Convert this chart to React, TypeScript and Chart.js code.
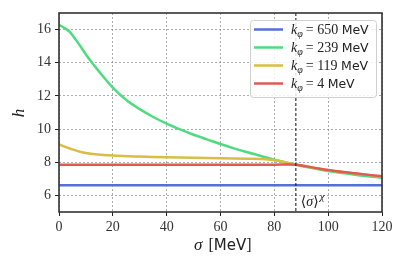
import React, { useEffect, useRef } from "react";
import { Chart, registerables } from "chart.js";

Chart.register(...registerables);

const sigma239 = [0, 2, 4, 7.5, 10, 12.5, 15, 20, 25, 30, 35, 40, 45, 50, 55, 60, 65, 70, 75, 80, 85, 88, 95, 100, 110, 120];
const h239 = [16.28, 16.1, 15.86, 15.1, 14.5, 13.95, 13.45, 12.5, 11.75, 11.2, 10.73, 10.33, 9.98, 9.66, 9.38, 9.1, 8.84, 8.6, 8.38, 8.15, 7.96, 7.85, 7.62, 7.47, 7.25, 7.06];
const sigma119 = [0, 4, 8.5, 13.5, 20, 30, 40, 50, 60, 70, 75, 81, 85, 88, 95, 100, 110, 120];
const h119 = [9.07, 8.83, 8.6, 8.48, 8.4, 8.34, 8.3, 8.27, 8.24, 8.21, 8.19, 8.1, 7.96, 7.86, 7.65, 7.52, 7.32, 7.15];
const sigma4 = [0, 20, 40, 60, 80, 88, 95, 100, 110, 120];
const h4 = [7.85, 7.85, 7.85, 7.85, 7.85, 7.85, 7.66, 7.53, 7.33, 7.15];
const sigma650 = [0, 120];
const h650 = [6.62, 6.62];
const seriesLabels = ["650", "239", "119", "4"];
const seriesColors = ["#5470d8", "#4fdc80", "#d9bd45", "#df5a55"];
const xTicks = [0, 20, 40, 60, 80, 100, 120];
const yTicks = [6, 8, 10, 12, 14, 16];
const sigmaChi = 88;

const SERIF = "'Liberation Serif', 'DejaVu Serif', serif";
const SANS = "'DejaVu Sans', sans-serif";

export default function App() {
  const ref = useRef<HTMLCanvasElement | null>(null);
  useEffect(() => {
    document.body.style.margin = "0";
    const canvas = ref.current!;
    const xsAll = [sigma650, sigma239, sigma119, sigma4];
    const ysAll = [h650, h239, h119, h4];
    const overlay = {
      id: "overlay",
      afterDatasetsDraw(chart: any) {
        const ctx = chart.ctx;
        const ca = chart.chartArea;
        const xs = chart.scales.x;
        const vx = xs.getPixelForValue(sigmaChi);
        ctx.save();
        ctx.strokeStyle = "#111";
        ctx.lineWidth = 1;
        ctx.setLineDash([3, 2]);
        ctx.beginPath();
        ctx.moveTo(vx, ca.top);
        ctx.lineTo(vx, ca.bottom);
        ctx.stroke();
        ctx.setLineDash([]);
        ctx.fillStyle = "#222";
        ctx.textBaseline = "alphabetic";
        let ax = vx + 5;
        const ay = ca.bottom - 6;
        ctx.font = `14px ${SERIF}`;
        ctx.fillText("⟨", ax, ay);
        ax += ctx.measureText("⟨").width;
        ctx.font = `italic 14px ${SERIF}`;
        ctx.fillText("σ", ax, ay);
        ax += ctx.measureText("σ").width;
        ctx.font = `14px ${SERIF}`;
        ctx.fillText("⟩", ax, ay);
        ax += ctx.measureText("⟩").width;
        ctx.font = `italic 11px ${SERIF}`;
        ctx.fillText("χ", ax + 1, ay - 6);
        ctx.strokeStyle = "#333";
        ctx.lineWidth = 1.6;
        ctx.strokeRect(ca.left, ca.top, ca.right - ca.left, ca.bottom - ca.top);
        const lx = 250, ly = 20, lw = 126, lh = 77;
        ctx.fillStyle = "rgba(255,255,255,0.85)";
        ctx.strokeStyle = "#d0d0d0";
        ctx.lineWidth = 1;
        ctx.beginPath();
        ctx.roundRect(lx + 0.5, ly + 0.5, lw, lh, 3);
        ctx.fill();
        ctx.stroke();
        seriesLabels.forEach((lab, i) => {
          const cy = 29.5 + i * 18;
          ctx.strokeStyle = seriesColors[i];
          ctx.lineWidth = 2.5;
          ctx.beginPath();
          ctx.moveTo(254, cy);
          ctx.lineTo(283, cy);
          ctx.stroke();
          ctx.fillStyle = "#222";
          let tx = 291;
          const by = cy + 4.5;
          ctx.font = `italic 14px ${SERIF}`;
          ctx.fillText("k", tx, by);
          tx += ctx.measureText("k").width;
          ctx.font = `italic 10px ${SERIF}`;
          ctx.fillText("φ", tx, by + 3);
          tx += ctx.measureText("φ").width + 3;
          ctx.font = `14px ${SERIF}`;
          const mid = "= " + lab + " ";
          ctx.fillText(mid, tx, by);
          tx += ctx.measureText(mid).width;
          ctx.font = `12.5px ${SANS}`;
          ctx.fillText("MeV", tx, by);
        });
        ctx.fillStyle = "#222";
        ctx.save();
        ctx.translate(24, 113);
        ctx.rotate(-Math.PI / 2);
        ctx.font = `italic 17px ${SERIF}`;
        ctx.textAlign = "center";
        ctx.fillText("h", 0, 0);
        ctx.restore();
        let t = 194;
        const tb = 250;
        ctx.font = `italic 17px ${SERIF}`;
        ctx.fillText("σ", t, tb);
        t += ctx.measureText("σ").width + 6;
        ctx.font = `16px ${SERIF}`;
        ctx.fillText("[", t, tb);
        t += ctx.measureText("[").width;
        ctx.font = `15px ${SANS}`;
        ctx.fillText("MeV", t, tb);
        t += ctx.measureText("MeV").width;
        ctx.font = `16px ${SERIF}`;
        ctx.fillText("]", t, tb);
        ctx.restore();
      },
    };
    const gridOpts: any = {
      color: "#8a8a8a",
      lineWidth: 0.7,
      tickLength: 4,
      tickColor: "#222",
      tickWidth: 1,
      tickBorderDash: [],
    };
    const chart = new Chart(canvas, {
      type: "line",
      data: {
        datasets: ysAll.map((arr, i) => ({
          label: seriesLabels[i],
          data: xsAll[i].map((s, j) => ({ x: s, y: arr[j] })),
          borderColor: seriesColors[i],
          borderWidth: 2.5,
          pointRadius: 0,
          tension: 0.35,
          fill: false,
          order: 3 - i,
        })),
      },
      options: {
        animation: false,
        responsive: false,
        maintainAspectRatio: false,
        layout: { padding: { top: 13, right: 25, left: 0, bottom: 0 } },
        plugins: { legend: { display: false }, tooltip: { enabled: false } },
        scales: {
          x: {
            type: "linear",
            min: 0,
            max: 120,
            afterBuildTicks: (s: any) => {
              s.ticks = xTicks.map((v) => ({ value: v }));
            },
            afterFit: (s: any) => {
              s.height = 59;
            },
            grid: gridOpts,
            border: { display: false, dash: [2, 2] },
            ticks: {
              color: "#333",
              font: { family: SERIF, size: 14 },
              padding: 3,
              maxRotation: 0,
            },
          },
          y: {
            type: "linear",
            min: 5,
            max: 17,
            afterBuildTicks: (s: any) => {
              s.ticks = yTicks.map((v) => ({ value: v }));
            },
            afterFit: (s: any) => {
              s.width = 59;
            },
            grid: gridOpts,
            border: { display: false, dash: [2, 2] },
            ticks: {
              color: "#333",
              font: { family: SERIF, size: 14 },
              padding: 4,
            },
          },
        },
      },
      plugins: [overlay],
    });
    return () => chart.destroy();
  }, []);
  return (
    <div style={{ position: "fixed", left: 0, top: 0, width: 407, height: 271, background: "#fff" }}>
      <canvas ref={ref} width={407} height={271} style={{ display: "block" }} />
    </div>
  );
}
